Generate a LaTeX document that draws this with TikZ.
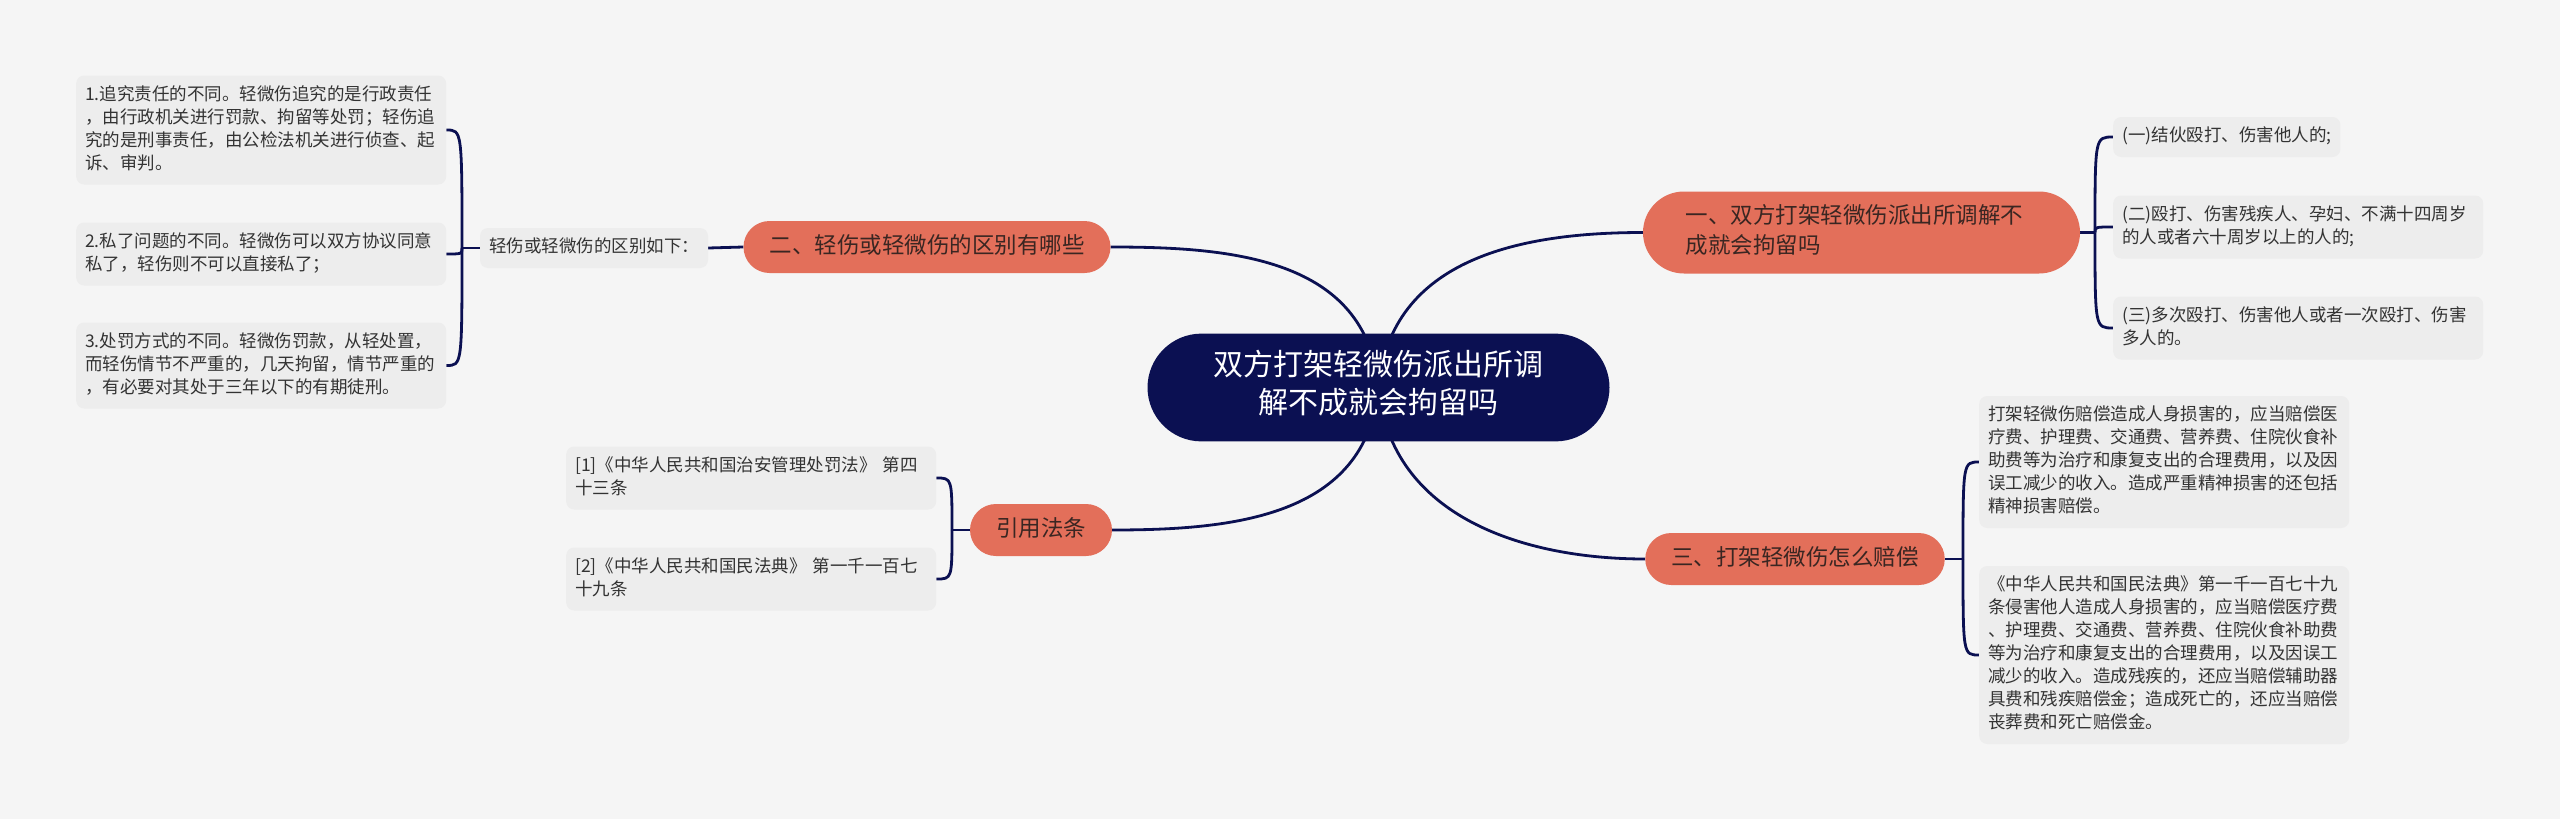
\documentclass[tikz,border=0pt]{standalone}
\usepackage{fontspec}
\setmainfont{Noto Sans CJK SC}
\usepackage{xcolor}
\usetikzlibrary{backgrounds}
\definecolor{paper}{HTML}{F5F5F5}
\definecolor{leafgray}{HTML}{EDEDED}
\definecolor{leafink}{HTML}{333333}
\definecolor{rootnavy}{HTML}{0B1052}
\definecolor{branchcoral}{HTML}{E36F5A}
\definecolor{branchink}{HTML}{3A2622}

\begin{document}
\begin{tikzpicture}[x=1pt, y=-1pt,
  link/.style={draw=rootnavy, line width=2.8pt},
  topic/.style={fill=rootnavy, text=white, rounded corners=54pt, inner xsep=66pt, inner ysep=16.5pt,
    align=center, font=\fontsize{30}{38}\selectfont, execute at begin node=\strut, execute at end node=\strut},
  branch/.style={fill=branchcoral, text=branchink, rounded corners=26pt, inner xsep=26pt, inner ysep=11pt,
    font=\fontsize{22.5}{30}\selectfont, execute at begin node=\strut, execute at end node=\strut},
  leaf/.style={fill=leafgray, text=leafink, rounded corners=8pt, inner xsep=9pt, inner ysep=8.5pt,
    font=\fontsize{17.5}{23}\selectfont, execute at begin node=\strut, execute at end node=\strut},
  note/.style={leaf, anchor=west, text width=352pt, align=left}]
  \useasboundingbox (0,0) rectangle (2560,819);
  \begin{scope}[on background layer]
    \fill[paper] (0,0) rectangle (2560,819);
  \end{scope}

  % centre and branches
  \node[topic] (root) at (1378.5,387.5) {双方打架轻微伤派出所调\\解不成就会拘留吗};
  \node[branch] (two) at (927,247) {二、轻伤或轻微伤的区别有哪些};
  \node[branch] (cite) at (1041,530) {引用法条};
  \node[branch, text width=352pt, align=left, inner xsep=42.5pt, rounded corners=41pt] (one) at (1861.5,232.5)
    {一、双方打架轻微伤派出所调解不\\成就会拘留吗};
  \node[branch] (three) at (1795,559) {三、打架轻微伤怎么赔偿};

  % left: differences
  \node[leaf] (sumDiff) at (594,248) {轻伤或轻微伤的区别如下：};
  \node[note] (diffA) at (76,130) {1.追究责任的不同。轻微伤追究的是行政责任\\，由行政机关进行罚款、拘留等处罚；轻伤追\\究的是刑事责任，由公检法机关进行侦查、起\\诉、审判。};
  \node[note] (diffB) at (76,254) {2.私了问题的不同。轻微伤可以双方协议同意\\私了，轻伤则不可以直接私了；};
  \node[note] (diffC) at (76,365.5) {3.处罚方式的不同。轻微伤罚款，从轻处置，\\而轻伤情节不严重的，几天拘留，情节严重的\\，有必要对其处于三年以下的有期徒刑。};

  % left: cited laws
  \node[note] (lawA) at (566,478) {[1]《中华人民共和国治安管理处罚法》 第四\\十三条};
  \node[note] (lawB) at (566,579) {[2]《中华人民共和国民法典》 第一千一百七\\十九条};

  % right: detention cases
  \node[leaf, anchor=west] (caseA) at (2113,137) {(一)结伙殴打、伤害他人的;};
  \node[note] (caseB) at (2113,227) {(二)殴打、伤害残疾人、孕妇、不满十四周岁\\的人或者六十周岁以上的人的;};
  \node[note] (caseC) at (2113,328) {(三)多次殴打、伤害他人或者一次殴打、伤害\\多人的。};

  % right: compensation
  \node[note] (payA) at (1979,462) {打架轻微伤赔偿造成人身损害的，应当赔偿医\\疗费、护理费、交通费、营养费、住院伙食补\\助费等为治疗和康复支出的合理费用，以及因\\误工减少的收入。造成严重精神损害的还包括\\精神损害赔偿。};
  \node[note] (payB) at (1979,655) {《中华人民共和国民法典》第一千一百七十九\\条侵害他人造成人身损害的，应当赔偿医疗费\\、护理费、交通费、营养费、住院伙食补助费\\等为治疗和康复支出的合理费用，以及因误工\\减少的收入。造成残疾的，还应当赔偿辅助器\\具费和残疾赔偿金；造成死亡的，还应当赔偿\\丧葬费和死亡赔偿金。};

  % bracket joints
  \coordinate (jDiff) at (462,248);
  \coordinate (jLaw) at (952,530);
  \coordinate (jCase) at (2095,232.5);
  \coordinate (jPay) at (1963,559);

  \begin{scope}[on background layer]
    % main curves
    \draw[link] (root.center) .. controls +(-12,-130) and +(120,0) .. (two.east);
    \draw[link] (root.center) .. controls +(-12,130) and +(120,0) .. (cite.east);
    \draw[link] (root.center) .. controls +(12,-130) and +(-120,0) .. (one.west);
    \draw[link] (root.center) .. controls +(12,130) and +(-120,0) .. (three.west);

    % stubs
    \draw[link] (two.west) -- (sumDiff.east);
    \draw[link] (sumDiff.west) -- (jDiff);
    \draw[link] (cite.west) -- (jLaw);
    \draw[link] (one.east) -- (jCase);
    \draw[link] (three.east) -- (jPay);

    % brackets
    \foreach \leaf in {diffA,diffB,diffC}
      \draw[link] (jDiff) .. controls (jDiff |- \leaf.east) .. (\leaf.east);
    \foreach \leaf in {lawA,lawB}
      \draw[link] (jLaw) .. controls (jLaw |- \leaf.east) .. (\leaf.east);
    \foreach \leaf in {caseA,caseB,caseC}
      \draw[link] (jCase) .. controls (jCase |- \leaf.west) .. (\leaf.west);
    \foreach \leaf in {payA,payB}
      \draw[link] (jPay) .. controls (jPay |- \leaf.west) .. (\leaf.west);
  \end{scope}
\end{tikzpicture}
\end{document}
